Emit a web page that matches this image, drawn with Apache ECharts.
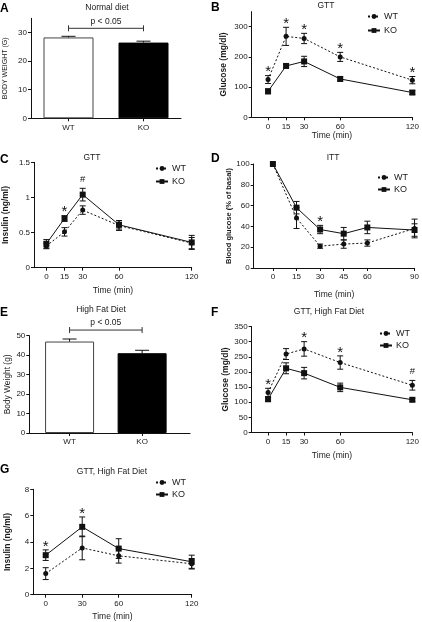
<!DOCTYPE html>
<html><head><meta charset="utf-8">
<script src="https://cdn.jsdelivr.net/npm/echarts@6/dist/echarts.min.js"></script>
<style>html,body{margin:0;padding:0;background:#fff}#c{width:422px;height:622px}</style>
</head><body><div id="c"></div>
<script>
// ---------- DATA ----------
const barCats = ['WT', 'KO'];
// A: Normal diet body weight
const aVals = [28.3, 26.5];
const aErr = [0.4, 0.5];
const aTicks = [0, 10, 20, 30];
// E: High fat diet body weight
const eVals = [47.0, 41.0];
const eErr = [1.3, 1.5];
const eTicks = [0, 10, 20, 30, 40, 50];

const gttTimes = [0, 15, 30, 60, 120];
// B: GTT glucose, normal diet
const bWT = [125, 268, 261, 200, 123];
const bWTErr = [13, 30, 17, 15, 12];
const bKO = [86, 170, 185, 127, 82];
const bKOErr = [8, 6, 17, 7, 6];
const bYTicks = [0, 100, 200, 300];
const bMarks = [[0, 'WT', '*'], [15, 'WT', '*'], [30, 'WT', '*'], [60, 'WT', '*'], [120, 'WT', '*']];
// C: GTT insulin, normal diet
const cWT = [0.31, 0.51, 0.82, 0.60, 0.35];
const cWTErr = [0.04, 0.06, 0.06, 0.07, 0.08];
const cKO = [0.34, 0.70, 1.04, 0.61, 0.36];
const cKOErr = [0.06, 0.04, 0.09, 0.06, 0.10];
const cYTicks = [0, 0.5, 1.0, 1.5];
const cMarks = [[15, 'KO', '*'], [30, 'KO', '#']];
// D: ITT
const ittTimes = [0, 15, 30, 45, 60, 90];
const dWT = [100, 48, 21, 23, 24, 38];
const dWTErr = [0, 10, 2, 4, 3, 9];
const dKO = [100, 58, 37, 33, 39, 36.5];
const dKOErr = [0, 6, 4, 6, 6, 6];
const dYTicks = [0, 20, 40, 60, 80, 100];
const dMarks = [[30, 'KO', '*']];
// F: GTT glucose, high fat diet
const fWT = [132, 259, 276, 231, 156];
const fWTErr = [14, 18, 24, 22, 16];
const fKO = [110, 212, 196, 149, 108];
const fKOErr = [8, 18, 19, 14, 5];
const fYTicks = [0, 50, 100, 150, 200, 250, 300, 350];
const fMarks = [[0, 'WT', '*'], [30, 'WT', '*'], [60, 'WT', '*'], [120, 'WT', '#']];
// G: GTT insulin, high fat diet
const gTimes = [0, 30, 60, 120];
const gWT = [1.6, 3.55, 2.95, 2.35];
const gWTErr = [0.45, 0.9, 0.55, 0.4];
const gKO = [3.0, 5.15, 3.5, 2.5];
const gKOErr = [0.4, 0.75, 0.75, 0.5];
const gYTicks = [0, 2, 4, 6, 8];
const gMarks = [[0, 'KO', '*'], [30, 'KO', '*']];

// ---------- BUILD ----------
const FONT = '"Liberation Sans", Arial, sans-serif';
const TXT = '#1a1a1a', LN = '#111';
const grids = [], xAxes = [], yAxes = [], series = [], legends = [], graphics = [];

function baseAxis() {
  return {
    axisLine: { show: true, onZero: false, lineStyle: { color: LN, width: 1 } },
    axisTick: { show: true, inside: false, length: 3, lineStyle: { color: LN, width: 1 } },
    splitLine: { show: false },
    axisLabel: { color: TXT, fontSize: 8, fontFamily: FONT, margin: 5 },
    nameLocation: 'middle',
    nameTextStyle: { color: TXT, fontFamily: FONT, fontSize: 8.5 }
  };
}

function errRender(upOnly, capW) {
  return function (params, api) {
    const x = api.value(0), y = api.value(1), e = api.value(2);
    if (!e) return null;
    const hi = api.coord([x, y + e]);
    const lo = upOnly ? api.coord([x, y]) : api.coord([x, y - e]);
    const st = { stroke: LN, lineWidth: 1 };
    const ch = [
      { type: 'line', shape: { x1: hi[0], y1: hi[1], x2: lo[0], y2: lo[1] }, style: st },
      { type: 'line', shape: { x1: hi[0] - capW, y1: hi[1], x2: hi[0] + capW, y2: hi[1] }, style: st }
    ];
    if (!upOnly) ch.push({ type: 'line', shape: { x1: lo[0] - capW, y1: lo[1], x2: lo[0] + capW, y2: lo[1] }, style: st });
    return { type: 'group', children: ch };
  };
}

function addText(text, x, y, opt) {
  graphics.push({
    type: 'text', x: x, y: y, silent: true,
    style: Object.assign({ text: text, fill: TXT, fontFamily: FONT, fontSize: 8.5, align: 'center', verticalAlign: 'middle' }, opt || {})
  });
}

function addLinePanel(p) {
  const gi = grids.length;
  grids.push(p.grid);
  xAxes.push(Object.assign(baseAxis(), {
    type: 'value', gridIndex: gi, min: p.xMin, max: p.xMax,
    name: 'Time (min)', nameGap: p.xNameGap,
    axisLabel: Object.assign(baseAxis().axisLabel, { customValues: p.xTicks }),
    axisTick: Object.assign(baseAxis().axisTick, { customValues: p.xTicks })
  }));
  const ya = Object.assign(baseAxis(), {
    type: 'value', gridIndex: gi, min: 0, max: p.yMax,
    name: p.yName, nameGap: p.yNameGap,
    axisLabel: Object.assign(baseAxis().axisLabel, { customValues: p.yTicks, margin: 4 }),
    axisTick: Object.assign(baseAxis().axisTick, { customValues: p.yTicks })
  });
  ya.nameTextStyle = Object.assign({}, ya.nameTextStyle, { fontWeight: 'bold', fontSize: p.yNameSize || 8.5 });
  yAxes.push(ya);
  const mk = (vals) => p.times.map((t, k) => [t, vals[k]]);
  const mkE = (vals, errs) => p.times.map((t, k) => [t, vals[k], errs[k]]);
  series.push({
    type: 'custom', name: 'errWT' + gi, xAxisIndex: gi, yAxisIndex: gi, z: 2,
    renderItem: errRender(false, 3), data: mkE(p.wt, p.wtErr), silent: true
  });
  series.push({
    type: 'custom', name: 'errKO' + gi, xAxisIndex: gi, yAxisIndex: gi, z: 2,
    renderItem: errRender(false, 3), data: mkE(p.ko, p.koErr), silent: true
  });
  series.push({
    type: 'line', name: 'WT', xAxisIndex: gi, yAxisIndex: gi, data: mk(p.wt), z: 3,
    symbol: 'circle', symbolSize: 5, itemStyle: { color: LN },
    lineStyle: { color: LN, width: 1, type: [2, 2] }
  });
  series.push({
    type: 'line', name: 'KO', xAxisIndex: gi, yAxisIndex: gi, data: mk(p.ko), z: 3,
    symbol: 'rect', symbolSize: 6, itemStyle: { color: LN },
    lineStyle: { color: LN, width: 1, type: 'solid' }
  });
  // significance marks
  const markData = p.marks.map(m => {
    const k = p.times.indexOf(m[0]);
    const v = m[1] === 'WT' ? p.wt[k] + p.wtErr[k] : p.ko[k] + p.koErr[k];
    return [m[0], v];
  });
  series.push({
    type: 'custom', name: 'marks' + gi, xAxisIndex: gi, yAxisIndex: gi, z: 4, silent: true,
    data: markData,
    renderItem: function (params, api) {
      const pt = api.coord([api.value(0), api.value(1)]);
      const ch = p.marks[params.dataIndex][2];
      const star = ch === '*';
      return {
        type: 'text', x: pt[0], y: pt[1] - (star ? 3.5 : 9),
        style: { text: ch, fill: LN, fontFamily: FONT, fontSize: star ? 15 : 9.5, align: 'center', verticalAlign: 'middle' }
      };
    }
  });
  legends.push({
    data: ['WT', 'KO'], orient: 'vertical', left: p.leg[0], top: p.leg[1],
    itemWidth: 12, itemHeight: 6, itemGap: p.leg[2], padding: 0, selectedMode: false,
    textStyle: { color: TXT, fontFamily: FONT, fontSize: 9, lineHeight: 9, padding: [0, 0, 0, -1] }
  });
}

function addBarPanel(p) {
  const gi = grids.length;
  grids.push(p.grid);
  const pos = barCats.map((c, i) => i + 1);
  xAxes.push(Object.assign(baseAxis(), {
    type: 'value', gridIndex: gi, min: p.xMin, max: p.xMax,
    axisLabel: Object.assign(baseAxis().axisLabel, { customValues: pos, formatter: v => barCats[Math.round(v) - 1] }),
    axisTick: Object.assign(baseAxis().axisTick, { customValues: pos })
  }));
  const ya = Object.assign(baseAxis(), {
    type: 'value', gridIndex: gi, min: 0, max: p.yMax,
    name: p.yName, nameGap: p.yNameGap,
    axisLabel: Object.assign(baseAxis().axisLabel, { customValues: p.yTicks, margin: 4 }),
    axisTick: Object.assign(baseAxis().axisTick, { customValues: p.yTicks })
  });
  ya.nameTextStyle = Object.assign({}, ya.nameTextStyle, { fontSize: p.yNameSize });
  yAxes.push(ya);
  series.push({
    type: 'bar', name: 'bars' + gi, xAxisIndex: gi, yAxisIndex: gi, barWidth: p.barWidth, z: 2,
    data: p.vals.map((v, i) => ({
      value: [pos[i], v],
      itemStyle: i === 0 ? { color: '#fff', borderColor: '#444', borderWidth: 1 } : { color: '#000', borderColor: '#000', borderWidth: 1 }
    }))
  });
  series.push({
    type: 'custom', name: 'barErr' + gi, xAxisIndex: gi, yAxisIndex: gi, z: 3, silent: true,
    renderItem: errRender(true, 7), data: p.vals.map((v, i) => [pos[i], v, p.errs[i]])
  });
  series.push({
    type: 'custom', name: 'bracket' + gi, xAxisIndex: gi, yAxisIndex: gi, z: 3, silent: true, clip: false,
    data: [[pos[0], pos[1], p.bracketY]],
    renderItem: function (params, api) {
      const a = api.coord([api.value(0), api.value(2)]);
      const b = api.coord([api.value(1), api.value(2)]);
      const st = { stroke: '#333', lineWidth: 1 };
      return {
        type: 'group', children: [
          { type: 'line', shape: { x1: a[0], y1: a[1], x2: b[0], y2: b[1] }, style: st },
          { type: 'line', shape: { x1: a[0], y1: a[1] - 3, x2: a[0], y2: a[1] + 3 }, style: st },
          { type: 'line', shape: { x1: b[0], y1: b[1] - 3, x2: b[0], y2: b[1] + 3 }, style: st },
          { type: 'text', x: (a[0] + b[0]) / 2, y: a[1] - 7, style: { text: 'p < 0.05', fill: TXT, fontFamily: FONT, fontSize: 8.5, align: 'center', verticalAlign: 'middle' } }
        ]
      };
    }
  });
}

// A
addBarPanel({ grid: { left: 31, top: 18.3, width: 150, height: 100 }, xMin: 0.5, xMax: 2.5, yMax: 35, yTicks: aTicks,
  vals: aVals, errs: aErr, barWidth: 50, yName: 'BODY WEIGHT (G)', yNameGap: 22, yNameSize: 7, bracketY: 31.5 });
// B
addLinePanel({ grid: { left: 251.7, top: 11.6, width: 162.6, height: 105.7 }, xMin: -13.6, xMax: 120, xTicks: gttTimes, xNameGap: 14,
  yMax: 350, yTicks: bYTicks, yName: 'Glucose (mg/dl)', yNameGap: 24, times: gttTimes,
  wt: bWT, wtErr: bWTErr, ko: bKO, koErr: bKOErr, marks: bMarks, leg: [367, 12, 5] });
// C
addLinePanel({ grid: { left: 33.3, top: 162.3, width: 158.4, height: 105.4 }, xMin: -10.2, xMax: 120, xTicks: gttTimes, xNameGap: 18,
  yMax: 1.5, yTicks: cYTicks, yName: 'Insulin (ng/ml)', yNameGap: 24, times: gttTimes,
  wt: cWT, wtErr: cWTErr, ko: cKO, koErr: cKOErr, marks: cMarks, leg: [155, 164, 4] });
// D
addLinePanel({ grid: { left: 253.7, top: 164, width: 161.3, height: 104 }, xMin: -12.2, xMax: 90, xTicks: ittTimes, xNameGap: 22,
  yMax: 100, yTicks: dYTicks, yName: 'Blood glucose (% of basal)', yNameGap: 18, yNameSize: 7.5, times: ittTimes,
  wt: dWT, wtErr: dWTErr, ko: dKO, koErr: dKOErr, marks: dMarks, leg: [377, 173, 3] });
// E
addBarPanel({ grid: { left: 29.3, top: 335.7, width: 160.7, height: 97.3 }, xMin: 0.445, xMax: 2.66, yMax: 50, yTicks: eTicks,
  vals: eVals, errs: eErr, barWidth: 49, yName: 'Body Weight (g)', yNameGap: 18, yNameSize: 8.4, bracketY: 52.9 });
// F
addLinePanel({ grid: { left: 251.7, top: 326.5, width: 162.6, height: 106 }, xMin: -13.6, xMax: 120, xTicks: gttTimes, xNameGap: 19,
  yMax: 350, yTicks: fYTicks, yName: 'Glucose (mg/dl)', yNameGap: 18, times: gttTimes,
  wt: fWT, wtErr: fWTErr, ko: fKO, koErr: fKOErr, marks: fMarks, leg: [379, 329, 3] });
// G
addLinePanel({ grid: { left: 33.3, top: 489.3, width: 158.4, height: 105.4 }, xMin: -10.2, xMax: 120, xTicks: gTimes, xNameGap: 17,
  yMax: 8, yTicks: gYTicks, yName: 'Insulin (ng/ml)', yNameGap: 21, times: gTimes,
  wt: gWT, wtErr: gWTErr, ko: gKO, koErr: gKOErr, marks: gMarks, leg: [155, 478, 3] });

// Panel letters
const L = { fontWeight: 'bold', fontSize: 12, align: 'left', fill: '#000' };
addText('A', 0, 8.5, L); addText('B', 211, 7.5, L); addText('C', 0, 159.5, L); addText('D', 211, 158.7, L);
addText('E', 0, 312.5, L); addText('F', 211, 312.5, L); addText('G', 0, 469.5, L);
// Panel titles
addText('Normal diet', 107, 7.3); addText('GTT', 326, 5.5); addText('GTT', 92, 157.5); addText('ITT', 333, 157.5);
addText('High Fat Diet', 101, 310); addText('GTT, High Fat Diet', 329, 312); addText('GTT, High Fat Diet', 112, 471.7);

const chart = echarts.init(document.getElementById('c'));
chart.setOption({
  animation: false,
  backgroundColor: '#fff',
  grid: grids, xAxis: xAxes, yAxis: yAxes, series: series, legend: legends, graphic: graphics
});
</script></body></html>
